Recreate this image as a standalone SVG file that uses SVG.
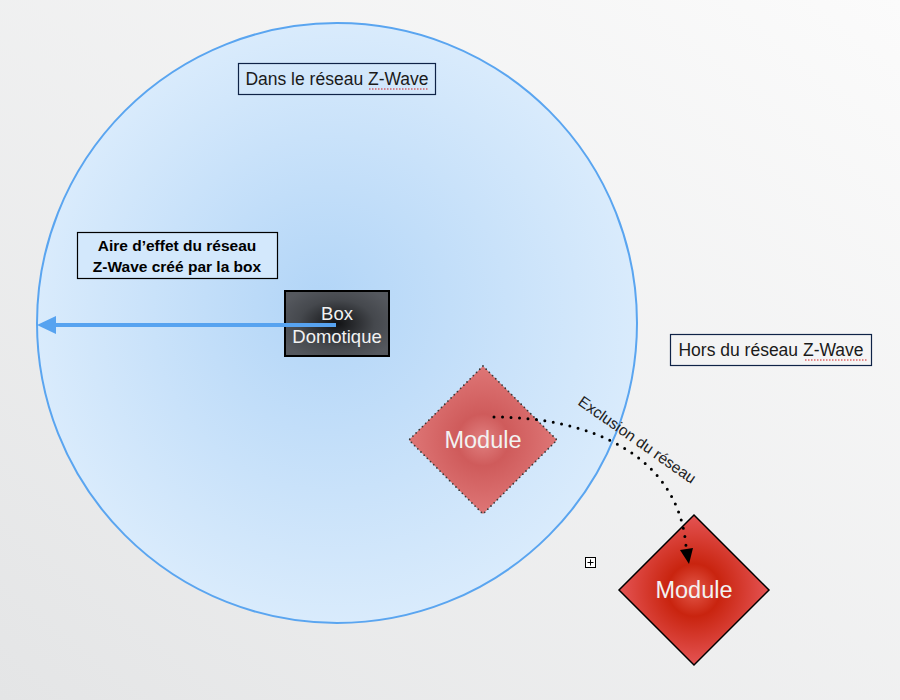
<svg xmlns="http://www.w3.org/2000/svg" width="900" height="700" viewBox="0 0 900 700">
<defs>
<linearGradient id="bg" x1="1" y1="0" x2="0" y2="1">
<stop offset="0" stop-color="#fbfbfb"/>
<stop offset="1" stop-color="#e4e5e6"/>
</linearGradient>
<radialGradient id="zone" cx="337" cy="323" r="300" gradientUnits="userSpaceOnUse" fx="320" fy="300">
<stop offset="0" stop-color="#b2d5f7"/>
<stop offset="1" stop-color="#d9ebfc"/>
</radialGradient>
<radialGradient id="boxg" cx="0.5" cy="0.5" r="0.6">
<stop offset="0" stop-color="#111214"/>
<stop offset="0.6" stop-color="#45484d"/>
<stop offset="1" stop-color="#55585e"/>
</radialGradient>
<radialGradient id="m1" cx="0.5" cy="0.5" r="0.5">
<stop offset="0" stop-color="#e18080"/>
<stop offset="0.35" stop-color="#cf5b5b"/>
<stop offset="1" stop-color="#de7676"/>
</radialGradient>
<radialGradient id="m2" cx="0.5" cy="0.5" r="0.5">
<stop offset="0" stop-color="#e3584a"/>
<stop offset="0.35" stop-color="#c9240f"/>
<stop offset="1" stop-color="#e45454"/>
</radialGradient>
</defs>
<style>
.lbl{font-family:"Liberation Sans",Arial,sans-serif;font-size:17.5px;fill:#1a1a1a;text-anchor:middle}
.lblbox{fill:none;stroke:#0f2347;stroke-width:1.2}
.bold{font-family:"Liberation Sans",Arial,sans-serif;font-size:15.5px;font-weight:bold;fill:#000;text-anchor:middle}
.wtxt{font-family:"Liberation Sans",Arial,sans-serif;fill:#f2f2f2;text-anchor:middle}
.spell{stroke:#d42020;stroke-width:1.2;stroke-dasharray:1.5 1.5;fill:none}
</style>
<rect x="0" y="0" width="900" height="700" fill="url(#bg)"/>

<g id="zone-circle">
<circle cx="337" cy="323" r="300" fill="url(#zone)" stroke="#5aa5f0" stroke-width="2"/>
</g>

<g id="label-dans">
<rect class="lblbox" x="238.5" y="63.5" width="197" height="31"/>
<text class="lbl" x="337" y="85">Dans le réseau Z-Wave</text>
<path class="spell" d="M369,89 L429,89"/>
</g>

<g id="label-aire">
<rect x="77.5" y="232.5" width="200" height="46" fill="#d3e8fc" stroke="#000" stroke-width="1.2"/>
<text class="bold" x="177" y="251">Aire d’effet du réseau</text>
<text class="bold" x="177" y="272">Z-Wave créé par la box</text>
</g>

<g id="label-hors">
<rect class="lblbox" x="670.5" y="334.5" width="201" height="31"/>
<text class="lbl" x="771" y="356">Hors du réseau Z-Wave</text>
<path class="spell" d="M805,360 L867,360"/>
</g>

<g id="box-domotique">
<rect x="285" y="291" width="104" height="65" fill="url(#boxg)" stroke="#000" stroke-width="2"/>
<text class="wtxt" x="337" y="320" font-size="18.5">Box</text>
<text class="wtxt" x="337" y="343" font-size="18.5">Domotique</text>
</g>

<g id="module-1">
<polygon points="483,366 557,440 483,514 409,440" fill="url(#m1)" stroke="#3a3a3a" stroke-width="1.8" stroke-dasharray="0 4.5" stroke-linecap="round"/>
<text class="wtxt" x="483" y="448" font-size="23.5">Module</text>
</g>

<g id="module-2">
<polygon points="694,515 769,590 694,665 619,590" fill="url(#m2)" stroke="#000" stroke-width="1.5"/>
<text class="wtxt" x="694" y="598" font-size="23.5">Module</text>
</g>

<g id="connectors">
<line x1="336" y1="325" x2="48" y2="325" stroke="#57a3f0" stroke-width="4"/>
<polygon points="37,325 56,316 56,334" fill="#57a3f0"/>
<path d="M494,417 C590,417 678,455 686,546" fill="none" stroke="#000" stroke-width="3" stroke-dasharray="0 8.5" stroke-linecap="round"/>
<polygon points="680,550 693,548 689,564" fill="#000"/>
<text x="637" y="445" transform="rotate(35 637 440)" font-family="'Liberation Sans',Arial,sans-serif" font-size="15.5" fill="#222" text-anchor="middle">Exclusion du réseau</text>
</g>

<g id="handle">
<rect x="585.5" y="557.5" width="10" height="10" fill="#fff" stroke="#000" stroke-width="1"/>
<path d="M590.5,559.5 V565.5 M587.5,562.5 H593.5" stroke="#000" stroke-width="1"/>
</g>
</svg>
